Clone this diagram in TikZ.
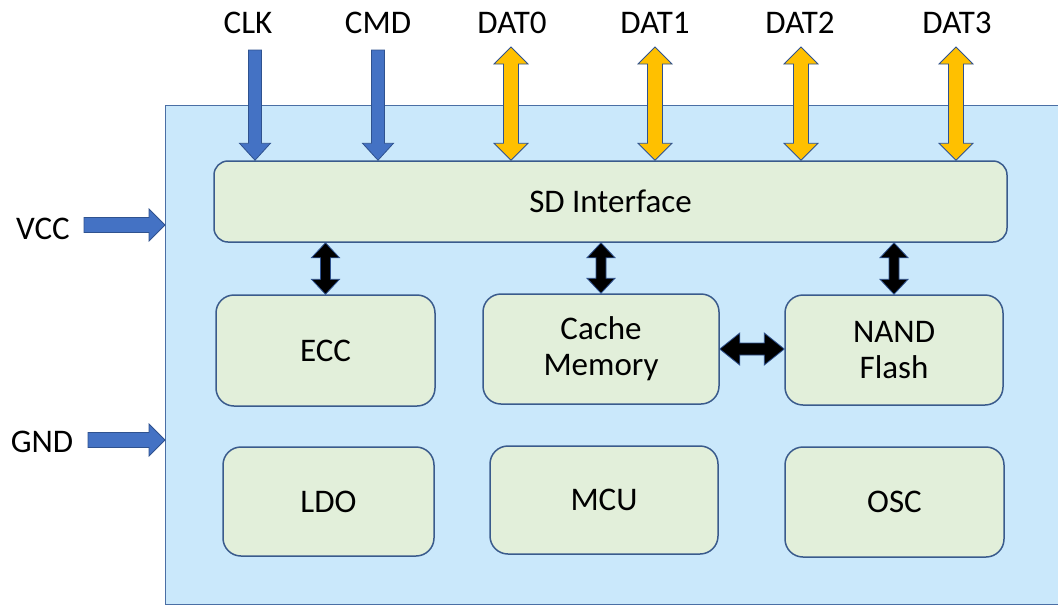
\documentclass[tikz,border=0pt]{standalone}
\usepackage{fontspec}
\setmainfont{Carlito}
\usetikzlibrary{calc}
\definecolor{chipbg}{HTML}{CAE8FB}
\definecolor{chipline}{HTML}{4A6FA5}
\definecolor{boxfill}{HTML}{E2EFDA}
\definecolor{boxline}{HTML}{3A5B8C}
\definecolor{sigblue}{HTML}{4472C4}
\definecolor{arrline}{HTML}{2F528F}
\definecolor{datyellow}{HTML}{FFC000}
% #1 style, #2 top, #3 bottom, #4 shaft half, #5 head half, #6 head length
\newcommand\VDouble[6]{%
\path[#1] let \p1=(#2), \p2=(#3) in
 (\x1,\y1) -- (\x1+#5,\y1-#6) -- (\x1+#4,\y1-#6) -- (\x1+#4,\y2+#6) -- (\x1+#5,\y2+#6)
 -- (\x1,\y2) -- (\x1-#5,\y2+#6) -- (\x1-#4,\y2+#6) -- (\x1-#4,\y1-#6) -- (\x1-#5,\y1-#6) -- cycle;}
\newcommand\VDown[6]{%
\path[#1] let \p1=(#2), \p2=(#3) in
 (\x1-#4,\y1) -- (\x1+#4,\y1) -- (\x1+#4,\y2+#6) -- (\x1+#5,\y2+#6) -- (\x1,\y2)
 -- (\x1-#5,\y2+#6) -- (\x1-#4,\y2+#6) -- cycle;}
\newcommand\HRight[6]{%
\path[#1] let \p1=(#2), \p2=(#3) in
 (\x1,\y1+#4) -- (\x2-#6,\y1+#4) -- (\x2-#6,\y1+#5) -- (\x2,\y1) -- (\x2-#6,\y1-#5)
 -- (\x2-#6,\y1-#4) -- (\x1,\y1-#4) -- cycle;}
\newcommand\HDouble[6]{%
\path[#1] let \p1=(#2), \p2=(#3) in
 (\x1,\y1) -- (\x1+#6,\y1+#5) -- (\x1+#6,\y1+#4) -- (\x2-#6,\y1+#4) -- (\x2-#6,\y1+#5)
 -- (\x2,\y1) -- (\x2-#6,\y1-#5) -- (\x2-#6,\y1-#4) -- (\x1+#6,\y1-#4) -- (\x1+#6,\y1-#5) -- cycle;}
\tikzset{
  blk/.style={draw=boxline, fill=boxfill, line width=1.5pt, rounded corners=18pt,
    align=center, font=\fontsize{33}{36}\selectfont, inner sep=0pt},
  lbl/.style={font=\fontsize{33}{36}\selectfont, inner sep=0pt, anchor=base},
  bluearr/.style={fill=sigblue, draw=arrline, line width=0.8pt},
  yelarr/.style={fill=datyellow, draw=arrline, line width=0.8pt},
  blkarr/.style={fill=black, draw=arrline, line width=0.8pt},
}
\begin{document}
\begin{tikzpicture}[x=1pt,y=-1pt]
\useasboundingbox (0,0) rectangle (1058,606);
% chip body
\fill[chipbg] (165,105) rectangle (1058,604);
\draw[chipline, line width=1pt] (1058,105) -- (165,105) -- (165,604) -- (1058,604);
\coordinate (chipW) at (165,0);

% blocks
\node[blk, rounded corners=14pt, minimum width=793pt, minimum height=81pt] (sd) at (610.5,201.5) {SD Interface};
\node[blk, minimum width=219pt, minimum height=111pt] (ecc) at (325.5,350.5) {ECC};
\node[blk, minimum width=236pt, minimum height=110pt] (cache) at (601,349) {Cache\\Memory};
\node[blk, minimum width=218pt, minimum height=110pt] (nand) at (894,350) {NAND\\Flash};
\node[blk, minimum width=211pt, minimum height=109pt] (ldo) at (328.5,501.5) {LDO};
\node[blk, minimum width=228pt, minimum height=108pt] (mcu) at (604,500) {MCU};
\node[blk, minimum width=219pt, minimum height=110pt] (osc) at (894.5,502) {OSC};

% top labels
\node[lbl] (clk) at (248,33) {CLK};
\node[lbl] (cmd) at (378,33) {CMD};
\node[lbl] (dat0) at (512,33) {DAT0};
\node[lbl] (dat1) at (655,33) {DAT1};
\node[lbl] (dat2) at (800,33) {DAT2};
\node[lbl] (dat3) at (957,33) {DAT3};
% side labels
\node[lbl] (vcc) at (43,239) {VCC};
\node[lbl] (gnd) at (42,452) {GND};

% arrow start points
\coordinate (clkS) at (255,50);
\coordinate (cmdS) at (378,50);
\coordinate (d0S) at (511,47);
\coordinate (d1S) at (655,47);
\coordinate (d2S) at (801,47);
\coordinate (d3S) at (956,47);
\coordinate (vccS) at (84,225);
\coordinate (gndS) at (88,440);

% input arrows
\VDown{bluearr}{clkS}{clkS |- sd.north}{6.5pt}{15.5pt}{17pt}
\VDown{bluearr}{cmdS}{cmdS |- sd.north}{6.5pt}{15.5pt}{17pt}
\VDouble{yelarr}{d0S}{d0S |- sd.north}{7.5pt}{17pt}{17pt}
\VDouble{yelarr}{d1S}{d1S |- sd.north}{7.5pt}{17pt}{17pt}
\VDouble{yelarr}{d2S}{d2S |- sd.north}{7.5pt}{17pt}{17pt}
\VDouble{yelarr}{d3S}{d3S |- sd.north}{7.5pt}{17pt}{17pt}
\HRight{bluearr}{vccS}{vccS -| chipW}{7.5pt}{16pt}{16pt}
\HRight{bluearr}{gndS}{gndS -| chipW}{7.5pt}{16pt}{16pt}

% internal arrows
\VDouble{blkarr}{ecc.north |- sd.south}{ecc.north}{5pt}{14pt}{15pt}
\VDouble{blkarr}{cache.north |- sd.south}{cache.north}{5pt}{14pt}{15pt}
\VDouble{blkarr}{nand.north |- sd.south}{nand.north}{5pt}{14pt}{15pt}
\HDouble{blkarr}{cache.east}{nand.west |- cache.east}{6pt}{16pt}{20pt}
\end{tikzpicture}
\end{document}
